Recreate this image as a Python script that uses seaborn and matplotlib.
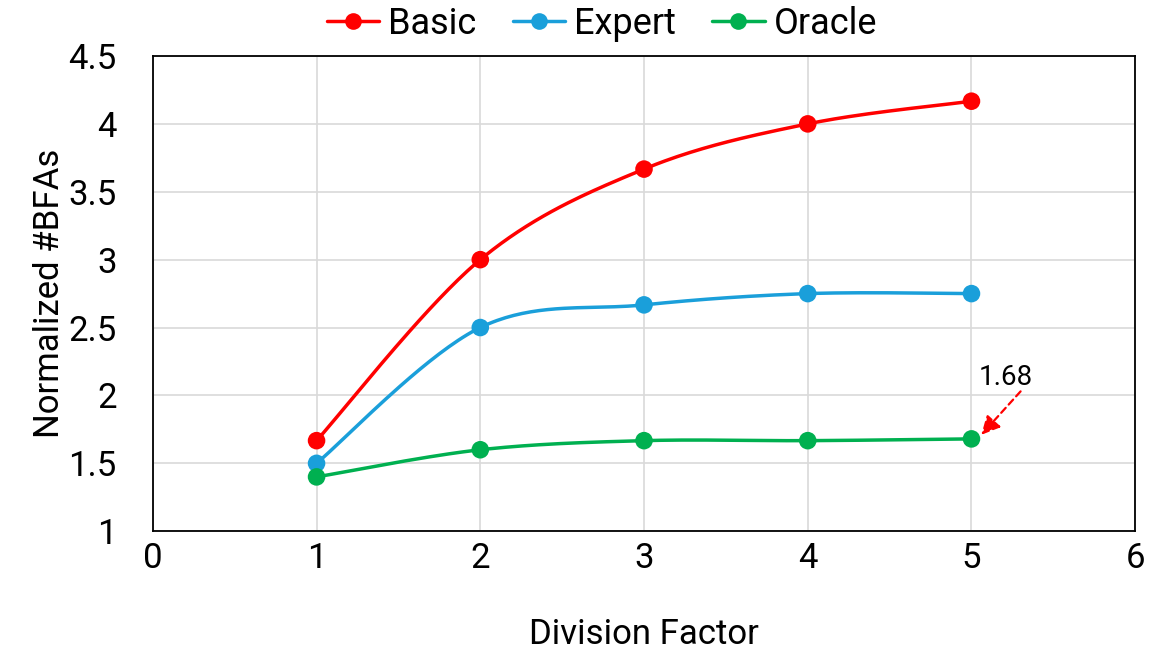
import numpy as np
import pandas as pd
import matplotlib
matplotlib.use("Agg")
import matplotlib.pyplot as plt
from matplotlib.lines import Line2D
import seaborn as sns

# Division factors and normalized #BFAs per strategy
division_factor = [1, 2, 3, 4, 5]
basic = [1.667, 3.0, 3.667, 4.0, 4.167]
expert = [1.5, 2.5, 2.667, 2.75, 2.75]
oracle = [1.4, 1.6, 1.667, 1.667, 1.68]

series_names = ["Basic", "Expert", "Oracle"]
colors = {"Basic": "#FF0000", "Expert": "#1A9FDA", "Oracle": "#00B050"}

df = pd.DataFrame({
    "Division Factor": division_factor * 3,
    "Normalized #BFAs": basic + expert + oracle,
    "Series": ["Basic"] * 5 + ["Expert"] * 5 + ["Oracle"] * 5,
})


def smooth_curve(xs, ys, n=40):
    """Catmull-Rom style Bezier smoothing through the given points."""
    p = np.column_stack([xs, ys]).astype(float)
    ext = np.vstack([p[0], p, p[-1]])
    out = []
    t = np.linspace(0, 1, n)[:, None]
    for i in range(len(p) - 1):
        p0, p1, p2, p3 = ext[i], ext[i + 1], ext[i + 2], ext[i + 3]
        b1 = p1 + (p2 - p0) / 6.0
        b2 = p2 - (p3 - p1) / 6.0
        seg = ((1 - t) ** 3) * p1 + 3 * ((1 - t) ** 2) * t * b1 \
            + 3 * (1 - t) * t ** 2 * b2 + t ** 3 * p2
        out.append(seg if i == 0 else seg[1:])
    c = np.vstack(out)
    return c[:, 0], c[:, 1]


sns.set_theme(style="whitegrid")
plt.rcParams["font.family"] = ["Roboto", "DejaVu Sans"]
plt.rcParams["text.color"] = "black"
plt.rcParams["axes.labelcolor"] = "black"
plt.rcParams["xtick.color"] = "black"
plt.rcParams["ytick.color"] = "black"

fig = plt.figure(figsize=(11.49, 6.51), dpi=100)
ax = fig.add_axes([0.133, 0.184, 0.855, 0.730])

for name in series_names:
    sub = df[df["Series"] == name]
    sx, sy = smooth_curve(sub["Division Factor"].values, sub["Normalized #BFAs"].values)
    ax.plot(sx, sy, color=colors[name], lw=2.5, zorder=3, solid_capstyle="round")

sns.scatterplot(data=df, x="Division Factor", y="Normalized #BFAs", hue="Series",
                palette=colors, s=160, edgecolor="none", legend=False, zorder=4, ax=ax)

ax.set_xlim(0, 6)
ax.set_ylim(1, 4.5)
ax.set_xticks(range(0, 7))
ax.set_yticks(np.arange(1, 4.51, 0.5))
ax.set_yticklabels(["1", "1.5", "2", "2.5", "3", "3.5", "4", "4.5"])

ax.grid(True, color="#D9D9D9", lw=1.2)
for side in ["left", "right", "top", "bottom"]:
    ax.spines[side].set_visible(True)
    ax.spines[side].set_color("black")
    ax.spines[side].set_linewidth(1.3)

ax.tick_params(axis="x", labelsize=25, pad=8, length=0)
ax.tick_params(axis="y", labelsize=25, pad=26, length=0)
ax.set_xlabel("Division Factor", fontsize=25, labelpad=31)
ax.set_ylabel("Normalized #BFAs", fontsize=25, labelpad=2)

# Callout for the last Oracle value
ax.annotate("", xy=(division_factor[-1] + 0.06, oracle[-1] + 0.03),
            xytext=(5.30, 2.03),
            arrowprops=dict(arrowstyle="-|>", color="#FF0000", lw=1.6,
                            linestyle=(0, (3, 2)), mutation_scale=28,
                            shrinkA=0, shrinkB=0))
ax.text(5.21, 2.13, f"{oracle[-1]:.2f}", fontsize=20, ha="center", va="center")

handles = [Line2D([0], [0], color=colors[n], lw=2.5, marker="o", markersize=12,
                  markeredgewidth=0) for n in series_names]
fig.legend(handles, series_names, loc="center", bbox_to_anchor=(0.524, 0.963),
           ncol=3, frameon=False, fontsize=26, handlelength=1.45, handletextpad=0.25,
           columnspacing=1.0)

fig.savefig("out.png", dpi=100)
